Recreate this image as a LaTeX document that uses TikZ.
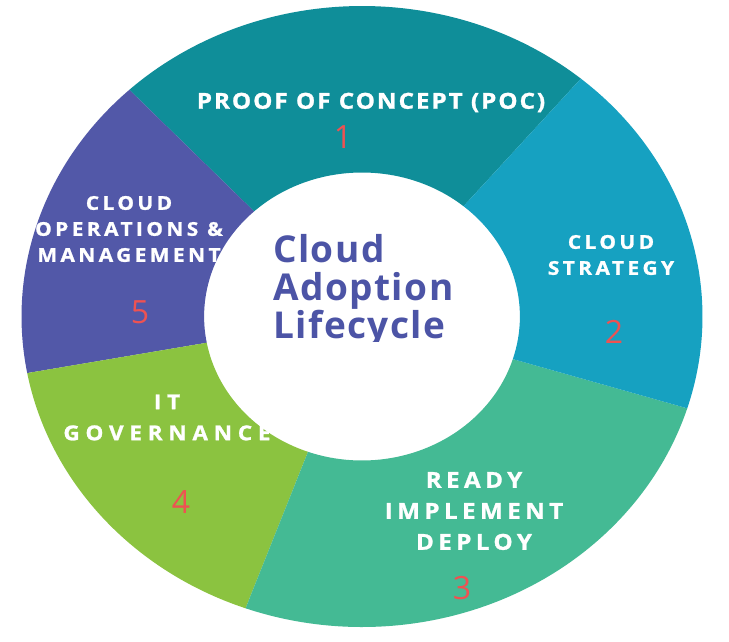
\documentclass[tikz,border=0pt]{standalone}
\usepackage{fontspec}
\newfontfamily\labfont{Open Sans}
\newfontfamily\numfont{Open Sans}
\newfontfamily\ctrfont[LetterSpace=4]{Open Sans}
\definecolor{segA}{RGB}{15,142,153}
\definecolor{segB}{RGB}{22,161,193}
\definecolor{segC}{RGB}{68,186,148}
\definecolor{segD}{RGB}{139,195,64}
\definecolor{segE}{RGB}{82,88,168}
\definecolor{ctrcol}{RGB}{76,84,166}
\definecolor{numcol}{RGB}{238,82,82}
\tikzset{
  lab/.style n args={3}{text=white, inner sep=0pt, align=center,
     font=\labfont\bfseries\addfontfeatures{LetterSpace=#3,FakeBold=1.2,FakeStretch=1.1}\fontsize{#1}{#2}\selectfont},
  num/.style={text=numcol, inner sep=0pt, font=\numfont\fontsize{32}{32}\selectfont},
  ctr/.style={text=ctrcol, inner sep=0pt, anchor=base west, font=\ctrfont\bfseries\fontsize{37}{38}\selectfont}
}
\newcommand{\ringseg}[3]{%
  \fill[#3] (#1:310.5) arc[start angle=#1, end angle=#2, radius=310.5]
    -- (#2:144) arc[start angle=#2, end angle=#1, radius=144] -- cycle;}
\begin{document}
\begin{tikzpicture}[x=1pt,y=-1pt]
\fill[white] (0,0) rectangle (729,641);
\useasboundingbox (0,0) rectangle (729,641);
\begin{scope}[shift={(362,316.5)}, xscale=1.0966, yscale=-1]
  \ringseg{50}{133.1}{segA}
  \ringseg{133.1}{190.5}{segE}
  \ringseg{190.5}{250}{segD}
  \ringseg{250}{342.8}{segC}
  \ringseg{-17.2}{50}{segB}
\end{scope}
% segment labels
\node[lab={22}{31}{9}] (t1) at (371,102.5) {PROOF OF CONCEPT (POC)};
\node[lab={19}{26}{18}] (t2) at (611,255) {CLOUD\\STRATEGY};
\node[lab={22}{31}{20}] (t3) at (474,511) {READY\\IMPLEMENT\\DEPLOY};
\node[lab={20.5}{31}{28}] (t4) at (167,417.5) {IT\\GOVERNANCE};
\node[lab={19}{26}{18}] (t5) at (129,229) {CLOUD\\OPERATIONS \&\\MANAGEMENT};
% numbers
\node[num] (n1) at (343,137.5) {1};
\node[num] (n2) at (614,332) {2};
\node[num] (n3) at (462,588) {3};
\node[num] (n4) at (181,502) {4};
\node[num] (n5) at (140,312) {5};
% centre title
\node[ctr] (c1) at (273,262) {Cloud};
\node[ctr] (c2) at (273,300) {Adoption};
\node[ctr] (c3) at (273,338) {Lifecycle};
\fill[white] (262,342) rectangle (470,358);
\end{tikzpicture}
\end{document}
